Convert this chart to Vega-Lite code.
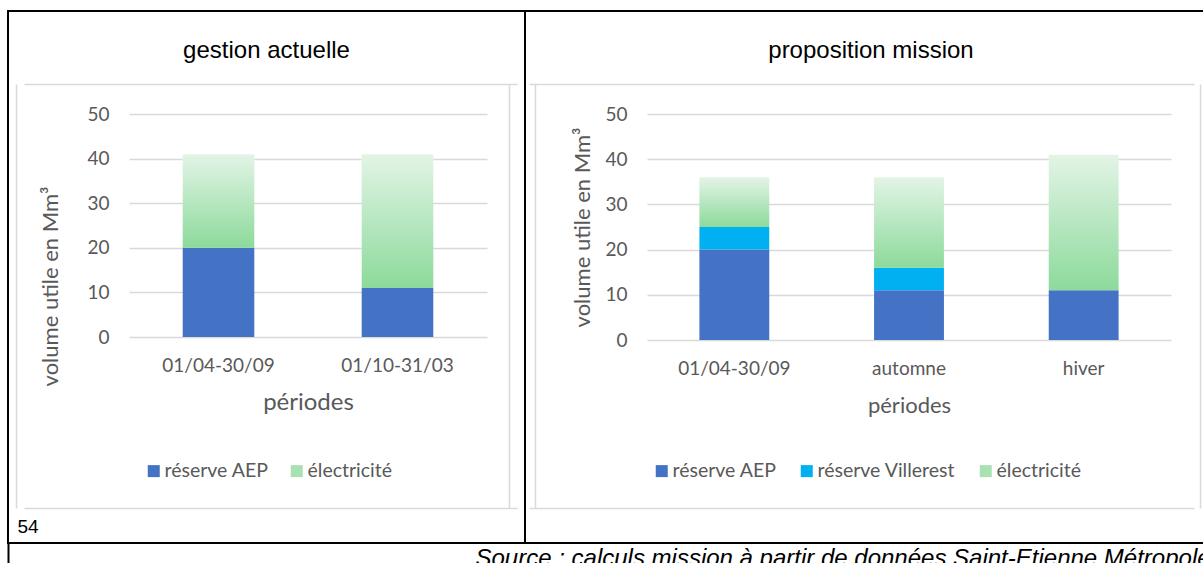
{
  "$schema": "https://vega.github.io/schema/vega-lite/v6.json",
  "padding": {"left": 7, "top": 10, "right": 0, "bottom": 0},
  "background": "white",
  "datasets": {
    "gauche": [
      {"periode": "01/04-30/09", "type": "réserve AEP", "volume": 20},
      {"periode": "01/04-30/09", "type": "électricité", "volume": 21},
      {"periode": "01/10-31/03", "type": "réserve AEP", "volume": 11},
      {"periode": "01/10-31/03", "type": "électricité", "volume": 30}
    ],
    "droite": [
      {"periode": "01/04-30/09", "type": "réserve AEP", "volume": 20},
      {"periode": "01/04-30/09", "type": "réserve Villerest", "volume": 5},
      {"periode": "01/04-30/09", "type": "électricité", "volume": 11},
      {"periode": "automne", "type": "réserve AEP", "volume": 11},
      {"periode": "automne", "type": "réserve Villerest", "volume": 5},
      {"periode": "automne", "type": "électricité", "volume": 20},
      {"periode": "hiver", "type": "réserve AEP", "volume": 11},
      {"periode": "hiver", "type": "électricité", "volume": 30}
    ]
  },
  "spacing": 0,
  "bounds": "flush",
  "resolve": {"scale": {"color": "independent"}, "legend": {"color": "independent"}},
  "hconcat": [
    {
      "width": 517,
      "height": 532,
      "title": {"text": "gestion actuelle", "anchor": "middle", "frame": "group", "offset": -71, "baseline": "alphabetic"},
      "layer": [
        {
          "data": {"name": "gauche"},
          "mark": {"type": "bar"},
          "encoding": {
            "x": {
              "field": "periode", "type": "nominal",
              "scale": {"domain": ["01/04-30/09", "01/10-31/03"], "range": [121, 479], "paddingInner": 0.6, "paddingOuter": 0.3},
              "axis": {"orient": "bottom", "offset": -206, "title": "périodes", "titleFontSize": 24, "titleY": 72, "titleBaseline": "alphabetic", "labelAngle": 0, "labelPadding": 19, "ticks": false, "tickSize": 0, "domain": false, "grid": false}
            },
            "y": {
              "field": "volume", "type": "quantitative", "stack": "zero",
              "scale": {"domain": [0, 50], "range": [326, 103], "nice": false, "zero": true},
              "axis": {"orient": "left", "offset": -121, "values": [0, 10, 20, 30, 40, 50], "grid": true, "gridColor": "#D9D9D9", "gridWidth": 1.5, "domain": false, "ticks": false, "tickSize": 0, "labelPadding": 20, "title": "volume utile en Mm³", "titleFontSize": 22, "titleX": -72, "titleY": 275, "titleBaseline": "alphabetic", "titleAngle": -90, "titleAlign": "center"}
            },
            "order": {"field": "type", "sort": "ascending"},
            "color": {
              "condition": {"test": "datum.type === 'électricité'", "value": {"gradient": "linear", "x1": 0, "y1": 0, "x2": 0, "y2": 1, "stops": [{"offset": 0, "color": "#E3F4E6"}, {"offset": 1, "color": "#8CDA9B"}]}},
              "field": "type", "type": "nominal",
              "scale": {"domain": ["réserve AEP", "électricité"], "range": ["#4472C4", "#A8E2B2"]},
              "legend": {"orient": "none", "legendX": 136, "legendY": 450, "direction": "horizontal", "title": null, "symbolType": "square", "symbolSize": 144, "symbolStrokeWidth": 0, "labelOffset": 1, "labelFontSize": 19.5, "columnPadding": 18, "padding": 0,
                "encode": {"symbols": {"update": {"fill": [{"test": "datum.value === 'électricité'", "value": {"gradient": "linear", "x1": 0, "y1": 0, "x2": 0, "y2": 1, "stops": [{"offset": 0, "color": "#E3F4E6"}, {"offset": 1, "color": "#8CDA9B"}]}}, {"value": "#4472C4"}], "stroke": {"value": null}}}}}
            }
          }
        },
        {
          "data": {"values": [{}]},
          "mark": {"type": "point", "opacity": 0},
          "encoding": {
            "x": {
              "datum": 0, "type": "quantitative",
              "scale": {"domain": [0, 1], "range": [8, 501], "nice": false, "zero": false},
              "axis": {"orient": "top", "values": [0, 1], "grid": true, "gridColor": "#D9D9D9", "gridWidth": 1.5, "labels": false, "ticks": false, "domain": false, "title": "54", "titleX": 9, "titleY": 521, "titleAlign": "left", "titleBaseline": "alphabetic", "titleAngle": 0, "titleFont": "Liberation Sans", "titleFontSize": 19, "titleColor": "black"}
            },
            "y": {
              "datum": 0, "type": "quantitative",
              "scale": {"domain": [0, 1], "range": [497, 73], "nice": false, "zero": false},
              "axis": {"orient": "right", "values": [0, 1], "grid": true, "gridColor": "#D9D9D9", "gridWidth": 1.5, "labels": false, "ticks": false, "domain": false, "title": null}
            }
          }
        },
        {
          "data": {"values": [{}]},
          "mark": {"type": "point", "opacity": 0},
          "encoding": {
            "y": {
              "datum": 0, "type": "quantitative",
              "scale": {"domain": [0, 1], "range": [553, 532], "nice": false, "zero": false},
              "axis": {"orient": "left", "values": [0, 1], "grid": false, "labels": false, "ticks": false, "domain": true, "domainColor": "black", "domainWidth": 2, "title": null}
            }
          }
        }
      ],
      "resolve": {"scale": {"x": "independent", "y": "independent"}, "axis": {"x": "independent", "y": "independent"}}
    },
    {
      "width": 679,
      "height": 532,
      "title": {"text": "proposition mission", "anchor": "middle", "frame": "group", "offset": -71, "dx": 6.5, "baseline": "alphabetic"},
      "layer": [
        {
          "data": {"name": "droite"},
          "mark": {"type": "bar"},
          "encoding": {
            "x": {
              "field": "periode", "type": "nominal",
              "scale": {"domain": ["01/04-30/09", "automne", "hiver"], "range": [122, 646], "paddingInner": 0.6, "paddingOuter": 0.3},
              "axis": {"orient": "bottom", "offset": -203, "title": "périodes", "titleFontSize": 22, "titleY": 72, "titleBaseline": "alphabetic", "labelAngle": 0, "labelPadding": 19, "ticks": false, "tickSize": 0, "domain": false, "grid": false}
            },
            "y": {
              "field": "volume", "type": "quantitative", "stack": "zero",
              "scale": {"domain": [0, 50], "range": [329, 103], "nice": false, "zero": true},
              "axis": {"orient": "left", "offset": -122, "values": [0, 10, 20, 30, 40, 50], "grid": true, "gridColor": "#D9D9D9", "gridWidth": 1.5, "domain": false, "ticks": false, "tickSize": 0, "labelPadding": 20, "title": "volume utile en Mm³", "titleFontSize": 22, "titleX": -58, "titleY": 216, "titleBaseline": "alphabetic", "titleAngle": -90, "titleAlign": "center"}
            },
            "order": {"field": "type", "sort": "ascending"},
            "color": {
              "condition": {"test": "datum.type === 'électricité'", "value": {"gradient": "linear", "x1": 0, "y1": 0, "x2": 0, "y2": 1, "stops": [{"offset": 0, "color": "#E3F4E6"}, {"offset": 1, "color": "#8CDA9B"}]}},
              "field": "type", "type": "nominal",
              "scale": {"domain": ["réserve AEP", "réserve Villerest", "électricité"], "range": ["#4472C4", "#00B0F0", "#A8E2B2"]},
              "legend": {"orient": "none", "legendX": 127, "legendY": 450, "direction": "horizontal", "title": null, "symbolType": "square", "symbolSize": 144, "symbolStrokeWidth": 0, "labelOffset": 1, "labelFontSize": 19.5, "columnPadding": 20, "padding": 0,
                "encode": {"symbols": {"update": {"fill": [{"test": "datum.value === 'électricité'", "value": {"gradient": "linear", "x1": 0, "y1": 0, "x2": 0, "y2": 1, "stops": [{"offset": 0, "color": "#E3F4E6"}, {"offset": 1, "color": "#8CDA9B"}]}}, {"test": "datum.value === 'réserve Villerest'", "value": "#00B0F0"}, {"value": "#4472C4"}], "stroke": {"value": null}}}}}
            }
          }
        },
        {
          "data": {"values": [{}]},
          "mark": {"type": "point", "opacity": 0},
          "encoding": {
            "x": {
              "datum": 0, "type": "quantitative",
              "scale": {"domain": [0, 1], "range": [10, 675], "nice": false, "zero": false},
              "axis": {"orient": "top", "values": [0, 1], "grid": true, "gridColor": "#D9D9D9", "gridWidth": 1.5, "labels": false, "ticks": false, "domain": false, "title": "Source : calculs mission à partir de données Saint-Etienne Métropole", "titleX": -50, "titleY": 554, "titleAlign": "left", "titleBaseline": "alphabetic", "titleAngle": 0, "titleFont": "Liberation Sans", "titleFontStyle": "italic", "titleFontSize": 24, "titleColor": "black"}
            },
            "y": {
              "datum": 0, "type": "quantitative",
              "scale": {"domain": [0, 1], "range": [497, 73], "nice": false, "zero": false},
              "axis": {"orient": "right", "values": [0, 1], "grid": true, "gridColor": "#D9D9D9", "gridWidth": 1.5, "labels": false, "ticks": false, "domain": false, "title": null}
            }
          }
        }
      ],
      "resolve": {"scale": {"x": "independent", "y": "independent"}, "axis": {"x": "independent", "y": "independent"}}
    }
  ],
  "config": {
    "view": {"stroke": "black", "strokeWidth": 2},
    "font": "Lato",
    "axis": {"labelFont": "Lato", "titleFont": "Lato", "labelColor": "#595959", "titleColor": "#595959", "titleFontWeight": "normal", "labelFontSize": 19},
    "legend": {"labelFont": "Lato", "labelColor": "#595959", "labelFontSize": 19},
    "title": {"font": "Liberation Sans", "fontWeight": "normal", "color": "black", "fontSize": 24}
  }
}
